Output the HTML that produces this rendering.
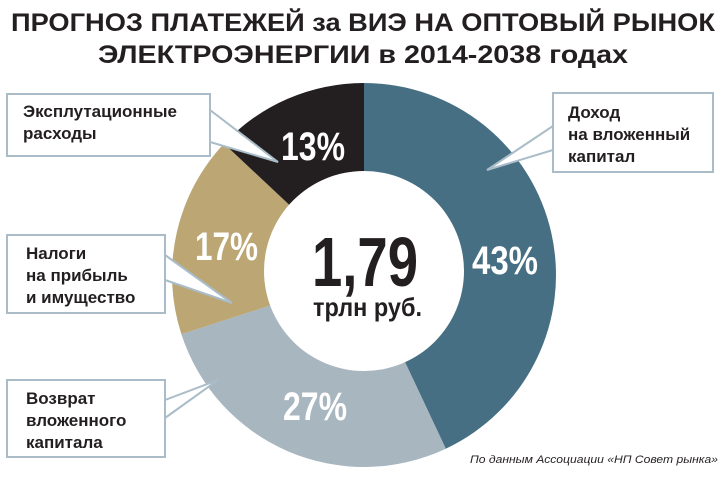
<!DOCTYPE html>
<html><head><meta charset="utf-8"><style>
html,body{margin:0;padding:0;background:#fff;}
svg{display:block;font-family:"Liberation Sans",sans-serif;}
</style></head><body>
<svg width="726" height="480" viewBox="0 0 726 480" xmlns="http://www.w3.org/2000/svg">
<rect width="726" height="480" fill="#fff"/>
<text x="363" y="31" text-anchor="middle" font-weight="bold" font-size="25" fill="#231f20" textLength="704" lengthAdjust="spacingAndGlyphs">ПРОГНОЗ ПЛАТЕЖЕЙ за ВИЭ НА ОПТОВЫЙ РЫНОК</text>
<text x="363" y="63" text-anchor="middle" font-weight="bold" font-size="25" fill="#231f20" textLength="530" lengthAdjust="spacingAndGlyphs">ЭЛЕКТРОЭНЕРГИИ в 2014-2038 годах</text>

<g>
<path d="M364 275 L364 83 A192 192 0 0 1 445.8 448.7 Z" fill="#466f83"/>
<path d="M364 275 L445.8 448.7 A192 192 0 0 1 181.4 334.3 Z" fill="#a8b6bf"/>
<path d="M364 275 L181.4 334.3 A192 192 0 0 1 224 143.6 Z" fill="#bca674"/>
<path d="M364 275 L224 143.6 A192 192 0 0 1 364 83 Z" fill="#231f20"/>
<circle cx="364" cy="271" r="100" fill="#fff"/>
</g>

<g font-family="Liberation Sans Narrow, Liberation Sans, sans-serif" font-weight="bold" fill="#fff" font-size="40">
<text x="281" y="160" textLength="64" lengthAdjust="spacingAndGlyphs">13%</text>
<text x="472" y="274" textLength="66" lengthAdjust="spacingAndGlyphs">43%</text>
<text x="195" y="260" textLength="63" lengthAdjust="spacingAndGlyphs">17%</text>
<text x="283" y="420" textLength="64" lengthAdjust="spacingAndGlyphs">27%</text>
</g>
<text x="312" y="286" font-weight="bold" font-size="70" fill="#231f20" textLength="106" lengthAdjust="spacingAndGlyphs">1,79</text>
<text x="313" y="316" font-weight="bold" font-size="26" fill="#231f20" textLength="109" lengthAdjust="spacingAndGlyphs">трлн руб.</text>

<g fill="#fff" stroke="#a9bcc8" stroke-width="2">
<rect x="7" y="94" width="203" height="62"/>
<polygon points="210,110 278,162 210,142"/>
<rect x="7" y="235" width="158" height="78"/>
<polygon points="165,255 232,303 165,280"/>
<rect x="7" y="380" width="158" height="77"/>
<polygon points="165,400 218,380 165,418"/>
<rect x="553" y="93" width="160" height="79"/>
<polygon points="553,126 487,170 553,150"/>
</g>
<g fill="#fff">
<rect x="8" y="95" width="201" height="60"/>
<rect x="8" y="236" width="156" height="76"/>
<rect x="8" y="381" width="156" height="75"/>
<rect x="554" y="94" width="158" height="77"/>
</g>

<g font-weight="bold" font-size="17" fill="#231f20">
<text x="23" y="117">Эксплутационные</text>
<text x="23" y="139">расходы</text>
<text x="26" y="259">Налоги</text>
<text x="26" y="281">на прибыль</text>
<text x="26" y="303">и имущество</text>
<text x="26" y="404">Возврат</text>
<text x="26" y="426">вложенного</text>
<text x="26" y="448">капитала</text>
<text x="568" y="118">Доход</text>
<text x="568" y="140">на вложенный</text>
<text x="568" y="162">капитал</text>
</g>
<text x="718" y="463" text-anchor="end" font-style="italic" font-size="11" fill="#231f20" textLength="248" lengthAdjust="spacingAndGlyphs">По данным Ассоциации «НП Совет рынка»</text>
</svg>
</body></html>
